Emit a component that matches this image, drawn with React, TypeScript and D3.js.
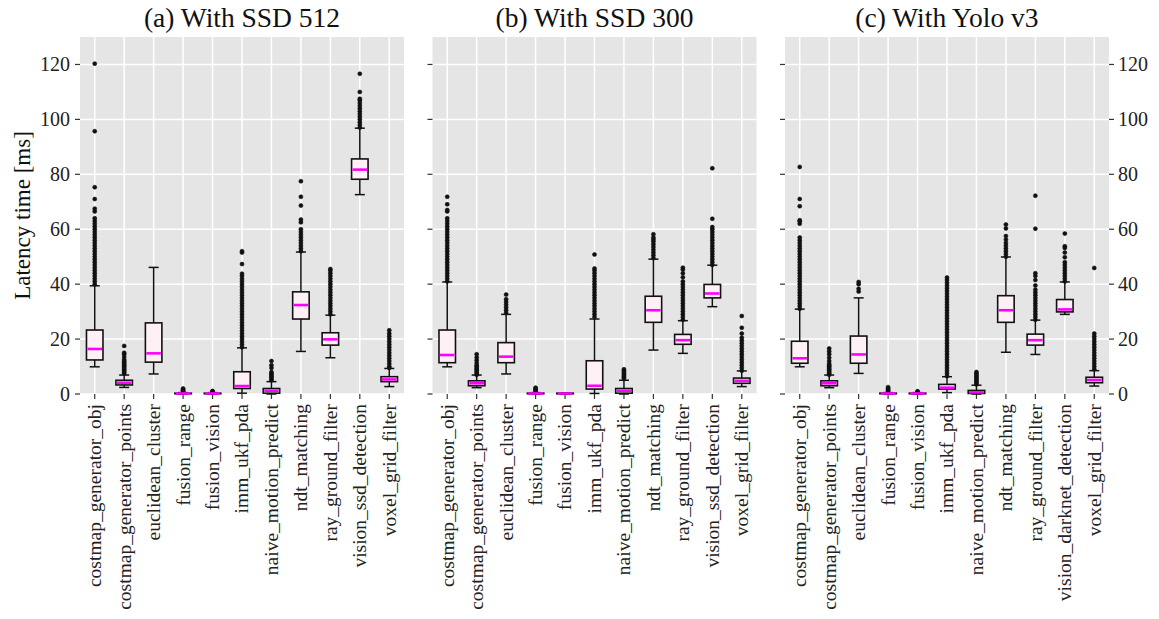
import React, { useEffect, useRef } from "react";
import * as d3 from "d3";

const width = 1159,
  height = 619;

// categories per panel
const catsSSD512 = [
  "costmap_generator_obj", "costmap_generator_points", "euclidean_cluster", "fusion_range",
  "fusion_vision", "imm_ukf_pda", "naive_motion_predict", "ndt_matching",
  "ray_ground_filter", "vision_ssd_detection", "voxel_grid_filter",
];
const catsSSD300 = catsSSD512;
const catsYolo = [
  "costmap_generator_obj", "costmap_generator_points", "euclidean_cluster", "fusion_range",
  "fusion_vision", "imm_ukf_pda", "naive_motion_predict", "ndt_matching",
  "ray_ground_filter", "vision_darknet_detection", "voxel_grid_filter",
];

// [whisker low, q1, median, q3, whisker high]
const statsSSD512 = [
  [9.9, 12.4, 16.4, 23.3, 39.4],
  [2.4, 3.3, 4.1, 5.0, 6.9],
  [7.3, 11.6, 14.8, 25.9, 46.1],
  [0, 0.1, 0.2, 0.3, 0.5],
  [0, 0.1, 0.2, 0.3, 0.5],
  [0.3, 2.0, 2.9, 8.1, 16.8],
  [0, 0.3, 1.2, 2.0, 4.5],
  [15.5, 27.3, 32.4, 37.2, 51.7],
  [13.2, 17.8, 19.9, 22.3, 28.7],
  [72.6, 78.2, 81.7, 85.6, 96.8],
  [2.7, 4.5, 5.3, 6.3, 9.3],
];
const outSSD512 = [
  [40, 41, 42, 43, 44, 45, 46, 47, 48, 49, 50, 51, 52, 53, 54, 55, 56, 57, 58, 59, 60, 61, 62, 63, 64, 66.5, 67.5, 71, 75.3, 95.7, 120.3],
  [7.5, 8, 8.5, 9, 9.5, 10, 10.5, 11, 11.5, 12, 12.5, 13.5, 14.5, 15, 17.5],
  [],
  [0.7, 1.0, 1.3, 1.6, 2.0],
  [0.7, 0.9, 1.1],
  [17, 18, 19, 20, 21, 22, 23, 24, 25, 26, 27, 28, 29, 30, 31, 32, 33, 34, 35, 36, 37, 38, 39, 40, 41, 42, 43, 43.8, 47.3, 51.5, 52],
  [5, 5.5, 6, 6.5, 7, 7.5, 8, 9.5, 10.5, 12],
  [52, 53, 54, 55, 56, 57, 58, 59, 60, 62.5, 63.5, 68.6, 71.8, 77.5],
  [29, 30, 31, 32, 33, 34, 35, 36, 37, 38, 39, 40, 41, 42, 43, 44, 45, 45.5],
  [97, 98, 99, 100, 101, 102, 103, 104, 105, 106, 107, 107.5, 110, 116.6],
  [9.5, 10, 11, 12, 13, 14, 15, 16, 17, 18, 19, 20, 21, 22, 23.2],
];

const statsSSD300 = [
  [9.9, 11.4, 14.2, 23.3, 40.8],
  [2.3, 3.0, 3.9, 4.8, 6.9],
  [7.3, 11.4, 13.6, 18.7, 29.0],
  [0, 0.1, 0.2, 0.3, 0.5],
  [0, 0.1, 0.2, 0.3, 0.4],
  [0.2, 1.8, 3.0, 12.1, 27.3],
  [0, 0.3, 1.2, 2.0, 5.0],
  [16, 26.1, 30.5, 35.6, 49.1],
  [14.8, 18.1, 19.6, 21.7, 26.7],
  [31.8, 35.0, 36.6, 39.9, 46.9],
  [2.7, 3.9, 4.8, 5.8, 8.4],
];
const outSSD300 = [
  [41, 42, 43, 44, 45, 46, 47, 48, 49, 50, 51, 52, 53, 54, 55, 56, 57, 58, 59, 60, 61, 62, 63, 64, 66.5, 67, 69.1, 71.8],
  [7, 7.5, 8, 8.5, 9, 9.5, 10, 10.5, 11.3, 12.3, 13.3, 14.5],
  [29.5, 30.5, 31.5, 32.5, 33.5, 34.5, 36.2],
  [0.8, 1.2, 1.6, 2.0, 2.3],
  [],
  [28, 29, 30, 31, 32, 33, 34, 35, 36, 37, 38, 39, 40, 41, 42, 43, 44, 45, 45.7, 50.8],
  [5.5, 6, 6.5, 7, 7.5, 8, 8.5, 9],
  [49.5, 50.5, 51.5, 52.5, 53.5, 54.5, 55.5, 56.3, 57, 58.2],
  [27, 28, 29, 30, 31, 32, 33, 34, 35, 36, 37, 38, 39, 40, 41, 42.5, 44, 45.3, 46],
  [47, 48, 49, 50, 51, 52, 53, 54, 55, 56, 57, 58, 59, 60, 60.8, 63.8, 82.2],
  [8.5, 9.5, 10.5, 11.5, 12.5, 13.5, 14.5, 15.5, 16.5, 17.5, 18.5, 19.5, 20.5, 22, 24.1, 28.4],
];

const statsYolo = [
  [9.9, 11.2, 13.0, 19.2, 30.9],
  [2.3, 3.0, 3.9, 4.8, 6.9],
  [7.5, 11.2, 14.4, 21.1, 35.0],
  [0, 0.1, 0.2, 0.3, 0.5],
  [0, 0.1, 0.2, 0.3, 0.5],
  [0.5, 1.8, 2.3, 3.5, 6.3],
  [0, 0.2, 0.6, 1.3, 3.2],
  [15.2, 26.1, 30.5, 35.8, 49.9],
  [14.4, 17.8, 19.6, 21.8, 26.9],
  [29.0, 29.9, 30.8, 34.4, 40.8],
  [2.9, 4.1, 5.1, 6.1, 8.5],
];
const outYolo = [
  [31, 32, 33, 34, 35, 36, 37, 38, 39, 40, 41, 42, 43, 44, 45, 46, 47, 48, 49, 50, 51, 52, 53, 54, 55, 56, 57, 62, 62.9, 63.3, 68.4, 71, 82.7],
  [7, 7.5, 8, 8.5, 9, 9.5, 10, 10.5, 11, 12, 13.2, 14.5, 15.5, 16.6],
  [37.3, 38.3, 40.0, 40.8],
  [0.8, 1.2, 1.6, 2.0, 2.5],
  [0.8, 1.0],
  [6.5, 7.5, 8.5, 9.5, 10.5, 11.5, 12.5, 13.5, 14.5, 15.5, 16.5, 17.5, 18.5, 19.5, 20.5, 21.5, 22.5, 23.5, 24.5, 25.5, 26.5, 27.5, 28.5, 29.5, 30.5, 31.5, 32.5, 33.5, 34.5, 35.5, 36.5, 37.5, 38.5, 39.5, 40.5, 41.5, 42.4],
  [3.5, 4, 4.5, 5, 5.5, 6, 6.5, 7, 7.5, 8],
  [50, 51, 52, 53, 54, 55, 56.2, 57.5, 60.3, 61.7],
  [27, 28, 29, 30, 31, 32, 33, 34, 35, 36, 37, 38, 39.5, 41.5, 43, 44, 60.2, 72.2],
  [41, 42, 43, 44, 45, 46, 47, 48, 49.8, 51.5, 53.2, 53.8, 58.4],
  [9, 10, 11, 12, 13, 14, 15, 16, 17, 18, 19, 20, 21, 22, 45.9],
];

const titles = ["(a) With SSD 512", "(b) With SSD 300", "(c) With Yolo v3"];
const yTicks = [0, 20, 40, 60, 80, 100, 120];

const panels = [
  { title: titles[0], cats: catsSSD512, stats: statsSSD512, out: outSSD512, x0: 80 },
  { title: titles[1], cats: catsSSD300, stats: statsSSD300, out: outSSD300, x0: 432.5 },
  { title: titles[2], cats: catsYolo, stats: statsYolo, out: outYolo, x0: 785 },
];

const panelW = 324,
  top = 37,
  bottom = 394;

function App() {
  const ref = useRef<SVGSVGElement>(null);

  useEffect(() => {
    const svg = d3.select(ref.current);
    svg.selectAll("*").remove();

    const y = d3.scaleLinear().domain([0, 130]).range([bottom, top]);

    panels.forEach((p, pi) => {
      const x = d3
        .scalePoint<string>()
        .domain(p.cats)
        .range([p.x0, p.x0 + panelW])
        .padding(0.5);
      const step = x.step();
      const boxW = step * 0.56;
      const capW = step * 0.34;

      const g = svg.append("g");

      // background
      g.append("rect")
        .attr("x", p.x0)
        .attr("y", top)
        .attr("width", panelW)
        .attr("height", bottom - top)
        .attr("fill", "#e5e5e5");

      // grid
      g.append("g")
        .selectAll("line")
        .data(yTicks)
        .join("line")
        .attr("x1", p.x0)
        .attr("x2", p.x0 + panelW)
        .attr("y1", d => y(d))
        .attr("y2", d => y(d))
        .attr("stroke", "white")
        .attr("stroke-width", 1.5);
      g.append("g")
        .selectAll("line")
        .data(p.cats)
        .join("line")
        .attr("x1", d => x(d)!)
        .attr("x2", d => x(d)!)
        .attr("y1", top)
        .attr("y2", bottom)
        .attr("stroke", "white")
        .attr("stroke-width", 1.5);

      // title
      g.append("text")
        .attr("x", p.x0 + panelW / 2)
        .attr("y", 27)
        .attr("text-anchor", "middle")
        .attr("font-size", 27.5)
        .attr("fill", "#111")
        .text(p.title);

      // left axis ticks (labels only on first panel)
      const left = g.append("g");
      left
        .selectAll("line")
        .data(yTicks)
        .join("line")
        .attr("x1", p.x0 - 5)
        .attr("x2", p.x0)
        .attr("y1", d => y(d))
        .attr("y2", d => y(d))
        .attr("stroke", "#333")
        .attr("stroke-width", 1.2);
      if (pi === 0) {
        left
          .selectAll("text")
          .data(yTicks)
          .join("text")
          .attr("x", p.x0 - 10)
          .attr("y", d => y(d))
          .attr("dy", "0.35em")
          .attr("text-anchor", "end")
          .attr("font-size", 20)
          .attr("fill", "#222")
          .text(d => d);
      }
      if (pi === 2) {
        const right = g.append("g");
        const xr = p.x0 + panelW;
        right
          .selectAll("line")
          .data(yTicks)
          .join("line")
          .attr("x1", xr)
          .attr("x2", xr + 5)
          .attr("y1", d => y(d))
          .attr("y2", d => y(d))
          .attr("stroke", "#333")
          .attr("stroke-width", 1.2);
        right
          .selectAll("text")
          .data(yTicks)
          .join("text")
          .attr("x", xr + 9)
          .attr("y", d => y(d))
          .attr("dy", "0.35em")
          .attr("text-anchor", "start")
          .attr("font-size", 20)
          .attr("fill", "#222")
          .text(d => d);
      }

      // x ticks and labels
      const xa = g.append("g");
      xa.selectAll("line")
        .data(p.cats)
        .join("line")
        .attr("x1", d => x(d)!)
        .attr("x2", d => x(d)!)
        .attr("y1", bottom)
        .attr("y2", bottom + 5)
        .attr("stroke", "#333")
        .attr("stroke-width", 1.2);
      xa.selectAll("text")
        .data(p.cats)
        .join("text")
        .attr("transform", d => `translate(${x(d)},${bottom + 10}) rotate(-90)`)
        .attr("dy", "0.33em")
        .attr("text-anchor", "end")
        .attr("font-size", 19.5)
        .attr("fill", "#222")
        .text(d => d);

      // boxes
      const boxes = g
        .append("g")
        .selectAll("g")
        .data(p.cats.map((c, i) => ({ c, s: p.stats[i], o: p.out[i] })))
        .join("g");

      // outliers
      boxes
        .selectAll("circle")
        .data(d => d.o.map(v => ({ c: d.c, v })))
        .join("circle")
        .attr("cx", d => x(d.c)!)
        .attr("cy", d => y(d.v))
        .attr("r", 2)
        .attr("fill", "#111")
        .attr("stroke", "#111")
        .attr("stroke-width", 0.6);

      // whiskers
      boxes
        .append("line")
        .attr("x1", d => x(d.c)!)
        .attr("x2", d => x(d.c)!)
        .attr("y1", d => y(d.s[0]))
        .attr("y2", d => y(d.s[1]))
        .attr("stroke", "#111")
        .attr("stroke-width", 1.5);
      boxes
        .append("line")
        .attr("x1", d => x(d.c)!)
        .attr("x2", d => x(d.c)!)
        .attr("y1", d => y(d.s[3]))
        .attr("y2", d => y(d.s[4]))
        .attr("stroke", "#111")
        .attr("stroke-width", 1.5);
      [0, 4].forEach(k => {
        boxes
          .append("line")
          .attr("x1", d => x(d.c)! - capW / 2)
          .attr("x2", d => x(d.c)! + capW / 2)
          .attr("y1", d => y(d.s[k]))
          .attr("y2", d => y(d.s[k]))
          .attr("stroke", "#111")
          .attr("stroke-width", 1.5);
      });

      boxes
        .append("rect")
        .attr("x", d => x(d.c)! - boxW / 2)
        .attr("y", d => y(d.s[3]))
        .attr("width", boxW)
        .attr("height", d => Math.max(0.5, y(d.s[1]) - y(d.s[3])))
        .attr("fill", "#fff0f5")
        .attr("stroke", "#111")
        .attr("stroke-width", 1.6);

      boxes
        .append("line")
        .attr("x1", d => x(d.c)! - boxW / 2 + 1)
        .attr("x2", d => x(d.c)! + boxW / 2 - 1)
        .attr("y1", d => y(d.s[2]))
        .attr("y2", d => y(d.s[2]))
        .attr("stroke", "#ff00ff")
        .attr("stroke-width", 2.6);
    });

    // y axis label
    svg
      .append("text")
      .attr("transform", `translate(22,${(top + bottom) / 2}) rotate(-90)`)
      .attr("dy", "0.35em")
      .attr("text-anchor", "middle")
      .attr("font-size", 23)
      .attr("fill", "#111")
      .text("Latency time [ms]");
  }, []);

  return (
    <div style={{ position: "absolute", left: 0, top: 0 }}>
      <svg
        ref={ref}
        width={width}
        height={height}
        style={{ display: "block", background: "white", fontFamily: "'Liberation Serif'" }}
      />
    </div>
  );
}

export default App;
